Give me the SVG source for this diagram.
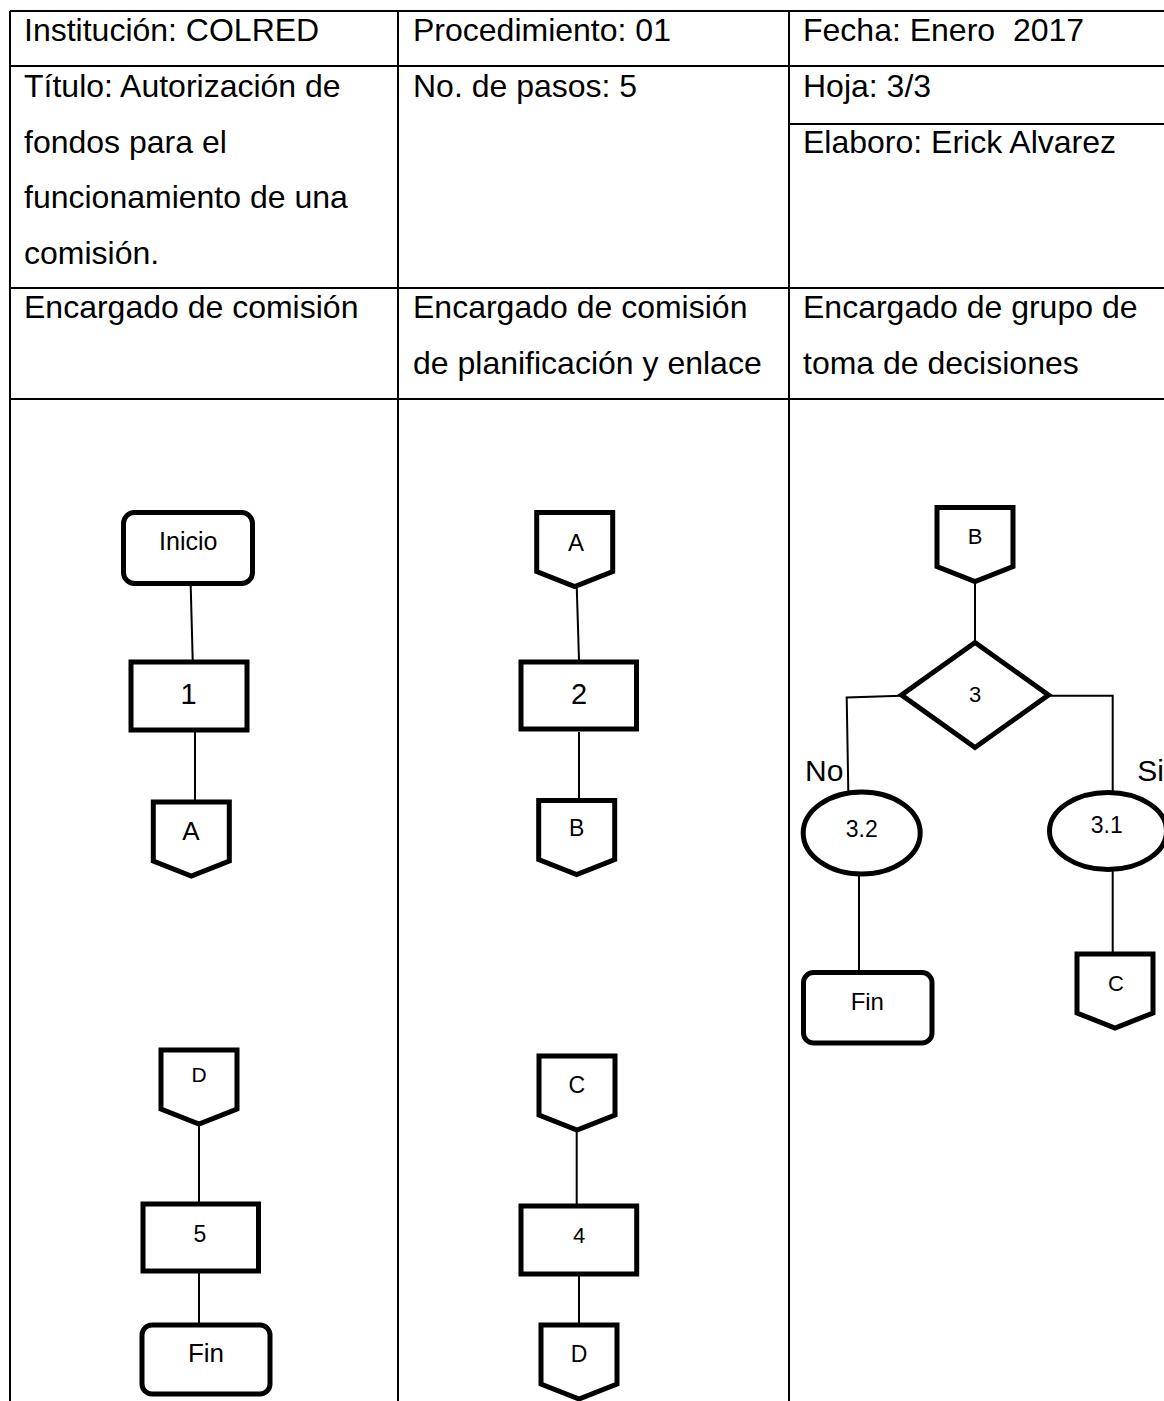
<svg xmlns="http://www.w3.org/2000/svg" xmlns:xlink="http://www.w3.org/1999/xlink" width="1164" height="1401" viewBox="0 0 1164 1401">
<style>
.grid{stroke:#000;stroke-width:2;fill:none}
.hd{font-family:"Liberation Sans",Arial,sans-serif;font-size:32px;fill:#000}
.shape{fill:#fff;stroke:#000;stroke-width:5}
.lbl{font-family:"Liberation Sans",Arial,sans-serif;fill:#000;text-anchor:middle}
.conn{stroke:#000;stroke-width:2;fill:none}
</style>
<defs>
<path id="offpage" d="M-38,0 H38 V59 L0,74 L-38,59 Z"/>
</defs>
<rect width="1164" height="1401" fill="#fff"/>
<g id="table">
<path class="grid" d="M10,11 H1164 M10,66 H1164 M789,124 H1164 M10,288 H1164 M10,399 H1164 M10,11 V1401 M398,11 V1401 M789,11 V1401"/>
<text class="hd" x="24" y="41">Institución: COLRED</text>
<text class="hd" x="413" y="41">Procedimiento: 01</text>
<text class="hd" x="803" y="41" xml:space="preserve">Fecha: Enero  2017</text>
<text class="hd" x="24" y="97">Título: Autorización de</text>
<text class="hd" x="24" y="152.5">fondos para el</text>
<text class="hd" x="24" y="208">funcionamiento de una</text>
<text class="hd" x="24" y="263.5">comisión.</text>
<text class="hd" x="413" y="97">No. de pasos: 5</text>
<text class="hd" x="803" y="97">Hoja: 3/3</text>
<text class="hd" x="803" y="152.5">Elaboro: Erick Alvarez</text>
<text class="hd" x="24" y="318">Encargado de comisión</text>
<text class="hd" x="413" y="318">Encargado de comisión</text>
<text class="hd" x="413" y="374">de planificación y enlace</text>
<text class="hd" x="803" y="318">Encargado de grupo de</text>
<text class="hd" x="803" y="374">toma de decisiones</text>
</g>
<g id="connectors">
<line class="conn" x1="190.7" y1="586" x2="192.7" y2="660"/>
<line class="conn" x1="195" y1="732" x2="195" y2="800"/>
<line class="conn" x1="199" y1="1123" x2="199" y2="1204"/>
<line class="conn" x1="199" y1="1271" x2="199" y2="1325"/>
<line class="conn" x1="576.7" y1="586" x2="579" y2="660"/>
<line class="conn" x1="579" y1="732" x2="579" y2="800"/>
<line class="conn" x1="576.7" y1="1130" x2="576.7" y2="1206"/>
<line class="conn" x1="579" y1="1274" x2="579" y2="1325"/>
<line class="conn" x1="975" y1="582" x2="975" y2="643"/>
<polyline class="conn" points="901,695.7 846.7,697.5 848.3,791"/>
<polyline class="conn" points="1049,695.7 1112.7,695.7 1112.7,791"/>
<line class="conn" x1="859" y1="874" x2="859" y2="972"/>
<line class="conn" x1="1112.7" y1="869" x2="1112.7" y2="954"/>
<text class="lbl" x="805" y="780.7" style="font-size:30px;text-anchor:start">No</text>
<text class="lbl" x="1137.3" y="780.7" style="font-size:30px;text-anchor:start">Si</text>
</g>
<g id="n-inicio">
<rect class="shape" x="123.5" y="512.5" width="129" height="71" rx="11"/>
<text class="lbl" x="188.3" y="550.4" style="font-size:25px">Inicio</text>
</g>
<g id="n-1">
<rect class="shape" x="131" y="662" width="116" height="68"/>
<text class="lbl" x="188.5" y="704" style="font-size:29px">1</text>
</g>
<g id="n-a1">
<use href="#offpage" xlink:href="#offpage" class="shape" x="191.3" y="802"/>
<text class="lbl" x="191" y="839.6" style="font-size:26px">A</text>
</g>
<g id="n-d1">
<use href="#offpage" xlink:href="#offpage" class="shape" x="199" y="1050"/>
<text class="lbl" x="199" y="1082.3" style="font-size:21px">D</text>
</g>
<g id="n-5">
<rect class="shape" x="143" y="1204" width="115.5" height="67"/>
<text class="lbl" x="200" y="1241.7" style="font-size:23px">5</text>
</g>
<g id="n-fin1">
<rect class="shape" x="142" y="1325" width="128" height="69" rx="10"/>
<text class="lbl" x="206" y="1362.3" style="font-size:26px">Fin</text>
</g>
<g id="n-a2">
<use href="#offpage" xlink:href="#offpage" class="shape" x="574.7" y="512.5"/>
<text class="lbl" x="576" y="551.4" style="font-size:24px">A</text>
</g>
<g id="n-2">
<rect class="shape" x="521" y="662" width="115.5" height="67"/>
<text class="lbl" x="579" y="704" style="font-size:29px">2</text>
</g>
<g id="n-b2">
<use href="#offpage" xlink:href="#offpage" class="shape" x="576.7" y="800.5"/>
<text class="lbl" x="576.7" y="836" style="font-size:23px">B</text>
</g>
<g id="n-c2">
<use href="#offpage" xlink:href="#offpage" class="shape" x="577" y="1056"/>
<text class="lbl" x="576.7" y="1093.3" style="font-size:23px">C</text>
</g>
<g id="n-4">
<rect class="shape" x="521" y="1206" width="115.7" height="68"/>
<text class="lbl" x="579" y="1243.3" style="font-size:22px">4</text>
</g>
<g id="n-d2">
<use href="#offpage" xlink:href="#offpage" class="shape" x="579" y="1325"/>
<text class="lbl" x="579" y="1361.7" style="font-size:23px">D</text>
</g>
<g id="n-b3">
<use href="#offpage" xlink:href="#offpage" class="shape" x="975" y="507.5"/>
<text class="lbl" x="975" y="544.3" style="font-size:22px">B</text>
</g>
<g id="n-3">
<polygon class="shape" points="975,642.5 1048.5,695 975,747.5 901.5,695"/>
<text class="lbl" x="975" y="702" style="font-size:22px">3</text>
</g>
<g id="n-3-2">
<ellipse class="shape" cx="861.7" cy="833" rx="58.5" ry="41"/>
<text class="lbl" x="861.7" y="836.7" style="font-size:23px">3.2</text>
</g>
<g id="n-3-1">
<ellipse class="shape" cx="1108" cy="831" rx="58.5" ry="38.5"/>
<text class="lbl" x="1106.7" y="833.3" style="font-size:23px">3.1</text>
</g>
<g id="n-fin3">
<rect class="shape" x="803.5" y="972.5" width="128.5" height="70.5" rx="10"/>
<text class="lbl" x="867.3" y="1010" style="font-size:24px">Fin</text>
</g>
<g id="n-c3">
<use href="#offpage" xlink:href="#offpage" class="shape" x="1115" y="954"/>
<text class="lbl" x="1116" y="990.7" style="font-size:22px">C</text>
</g>
</svg>
